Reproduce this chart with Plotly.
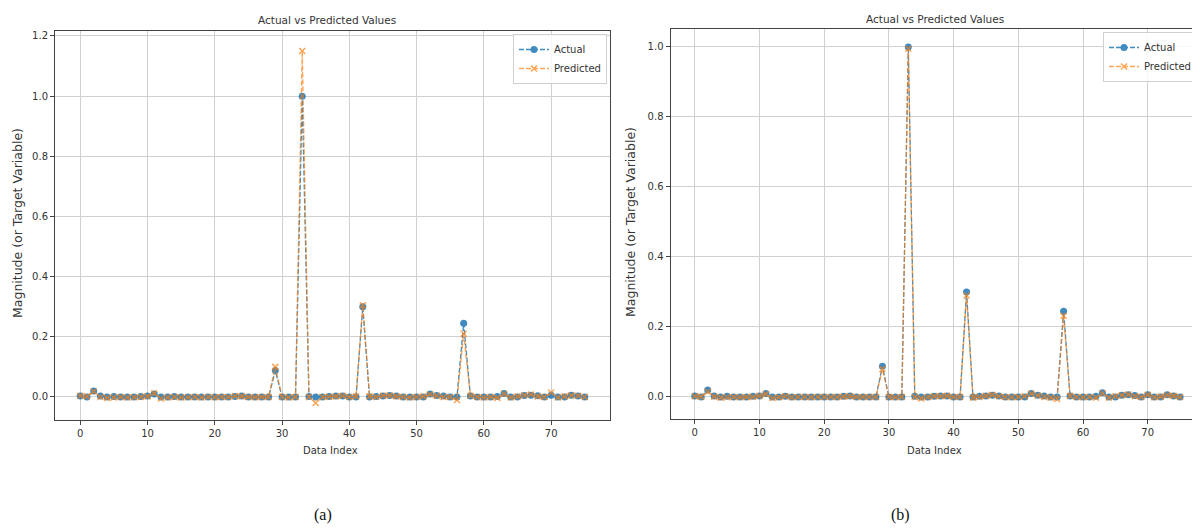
import plotly.graph_objects as go

# ---- data ----
data_index = list(range(76))

actual = [
    0.003, 0.0, 0.02, 0.003, 0.0, 0.002, 0.0, 0.0, 0.0, 0.002,
    0.003, 0.01, 0.0, 0.0, 0.002, 0.0, 0.0, 0.0, 0.0, 0.0,
    0.0, 0.0, 0.0, 0.002, 0.003, 0.0, 0.0, 0.0, 0.0, 0.088,
    0.0, 0.0, 0.0, 1.0, 0.002, 0.0, 0.0, 0.002, 0.003, 0.003,
    0.0, 0.0, 0.30, 0.0, 0.002, 0.003, 0.005, 0.003, 0.0, 0.0,
    0.0, 0.0, 0.01, 0.005, 0.003, 0.0, 0.0, 0.245, 0.003, 0.0,
    0.0, 0.0, 0.002, 0.012, 0.0, 0.0, 0.005, 0.006, 0.004, 0.0,
    0.006, 0.0, 0.0, 0.006, 0.003, 0.0,
]

predicted_a = [
    0.004, 0.002, 0.018, 0.0, -0.003, -0.002, 0.0, -0.002, -0.001, 0.0,
    0.002, 0.012, -0.005, -0.002, 0.0, -0.002, -0.001, 0.0, -0.002, 0.0,
    -0.001, 0.0, 0.0, 0.003, 0.002, 0.0, -0.001, 0.0, 0.0, 0.10,
    0.0, -0.002, 0.0, 1.15, 0.0, -0.02, 0.0, 0.001, 0.002, 0.004,
    0.0, 0.002, 0.305, 0.002, 0.0, 0.004, 0.005, 0.002, 0.0, -0.002,
    0.0, 0.002, 0.008, 0.004, 0.0, 0.0, -0.01, 0.21, 0.004, 0.0,
    -0.002, 0.0, -0.003, 0.01, -0.002, 0.002, 0.006, 0.008, 0.002, 0.0,
    0.015, -0.002, 0.002, 0.005, 0.004, 0.0,
]

predicted_b = [
    0.002, 0.001, 0.015, 0.001, -0.002, -0.001, 0.0, -0.001, 0.0, 0.0,
    0.003, 0.008, -0.003, -0.001, 0.002, -0.001, 0.0, 0.0, -0.001, 0.0,
    0.0, 0.0, 0.0, 0.001, 0.002, 0.0, 0.0, 0.0, 0.0, 0.08,
    0.0, -0.001, 0.0, 0.995, 0.0, -0.004, 0.0, 0.002, 0.002, 0.003,
    0.0, 0.0, 0.29, -0.002, 0.0, 0.003, 0.006, 0.002, 0.0, -0.001,
    0.0, 0.002, 0.009, 0.004, 0.0, -0.002, -0.006, 0.232, 0.003, 0.0,
    -0.001, 0.0, -0.002, 0.01, -0.002, 0.002, 0.005, 0.007, 0.002, 0.0,
    0.006, -0.001, 0.001, 0.005, 0.003, 0.0,
]

panel_title = "Actual vs Predicted Values"
x_label = "Data Index"
y_label = "Magnitude (or Target Variable)"
captions = ["(a)", "(b)"]

# ---- styling ----
OFF = 8                      # default body margin of the html page
W, H = 1200 - OFF, 529 - OFF
BLUE = "#1f77b4"
ORANGE = "#ff7f0e"
FONT = "DejaVu Sans"
TXT = "#333333"
GRID = "#d0d0d0"
SPINE = "#444444"


def px_x(p):
    """page pixel x -> paper fraction"""
    return min(1.0, (p - OFF) / W)


def px_y(p):
    """page pixel y -> paper fraction"""
    return 1 - (p - OFF) / H


fig = go.Figure()

panels = [
    dict(xa="x", ya="y", pred=predicted_a, legend="legend"),
    dict(xa="x2", ya="y2", pred=predicted_b, legend="legend2"),
]

for p in panels:
    fig.add_trace(go.Scatter(
        x=data_index, y=actual, name="Actual", mode="lines+markers",
        xaxis=p["xa"], yaxis=p["ya"], legend=p["legend"],
        line=dict(color=BLUE, width=1.3, dash="5px,2px"),
        marker=dict(color=BLUE, size=7, symbol="circle"),
        opacity=0.85,
    ))
    fig.add_trace(go.Scatter(
        x=data_index, y=p["pred"], name="Predicted", mode="lines+markers",
        xaxis=p["xa"], yaxis=p["ya"], legend=p["legend"],
        line=dict(color=ORANGE, width=1.3, dash="5px,2px"),
        marker=dict(color=ORANGE, size=6, symbol="x-thin",
                    line=dict(color=ORANGE, width=1.5)),
        opacity=0.7,
    ))

axis_common = dict(
    showgrid=True, gridcolor=GRID, gridwidth=1, zeroline=False,
    showline=True, linecolor=SPINE, linewidth=1,
    ticks="outside", ticklen=4, tickcolor=SPINE, tickwidth=1,
    tickfont=dict(family=FONT, size=10, color=TXT),
)

fig.update_layout(
    xaxis=dict(axis_common, domain=[px_x(55), px_x(610)], range=[-3.75, 78.75],
               dtick=10, tick0=0, anchor="y", mirror=True),
    yaxis=dict(axis_common, domain=[px_y(420), px_y(31)], range=[-0.0765, 1.2166],
               dtick=0.2, tick0=0, tickformat=".1f", anchor="x", mirror=True),
    xaxis2=dict(axis_common, domain=[px_x(670.5), 1.0], range=[-3.75, 78.08],
                dtick=10, tick0=0, anchor="y2", mirror=True),
    yaxis2=dict(axis_common, domain=[px_y(419), px_y(29)], range=[-0.063, 1.0514],
                dtick=0.2, tick0=0, tickformat=".1f", anchor="x2", mirror=False),
)

legend_common = dict(
    bgcolor="rgba(255,255,255,0.85)", bordercolor="#d0d0d0", borderwidth=1,
    font=dict(family=FONT, size=10, color=TXT), xanchor="right", yanchor="top",
    itemwidth=30, tracegroupgap=0,
)
fig.update_layout(
    legend=dict(legend_common, x=px_x(607), y=px_y(34)),
    legend2=dict(legend_common, x=px_x(1197), y=px_y(32)),
)

annotations = []
for cx, cy in [(327, 20), (935, 19)]:
    annotations.append(dict(text=panel_title, x=px_x(cx), y=px_y(cy), xref="paper",
                            yref="paper", showarrow=False, xanchor="center",
                            yanchor="middle", font=dict(family=FONT, size=10.5, color=TXT)))
for cx in [330, 934]:
    annotations.append(dict(text=x_label, x=px_x(cx), y=px_y(450), xref="paper",
                            yref="paper", showarrow=False, xanchor="center",
                            yanchor="middle", font=dict(family=FONT, size=10, color=TXT)))
for cx, cy in [(17, 223), (630, 222)]:
    annotations.append(dict(text=y_label, x=px_x(cx), y=px_y(cy), xref="paper",
                            yref="paper", showarrow=False, xanchor="center",
                            yanchor="middle", textangle=-90,
                            font=dict(family=FONT, size=12.5, color=TXT)))
for cap, cx in zip(captions, [323, 900]):
    annotations.append(dict(text=cap, x=px_x(cx), y=px_y(515), xref="paper",
                            yref="paper", showarrow=False, xanchor="center",
                            yanchor="middle",
                            font=dict(family="Liberation Serif", size=16, color="#111111")))

fig.update_layout(
    width=W, height=H, autosize=False,
    margin=dict(l=0, r=0, t=0, b=0, pad=0),
    paper_bgcolor="white", plot_bgcolor="white",
    annotations=annotations,
    font=dict(family=FONT, color=TXT),
)

fig.write_html("out.html", include_plotlyjs=True, full_html=True,
               config={"displayModeBar": False})
